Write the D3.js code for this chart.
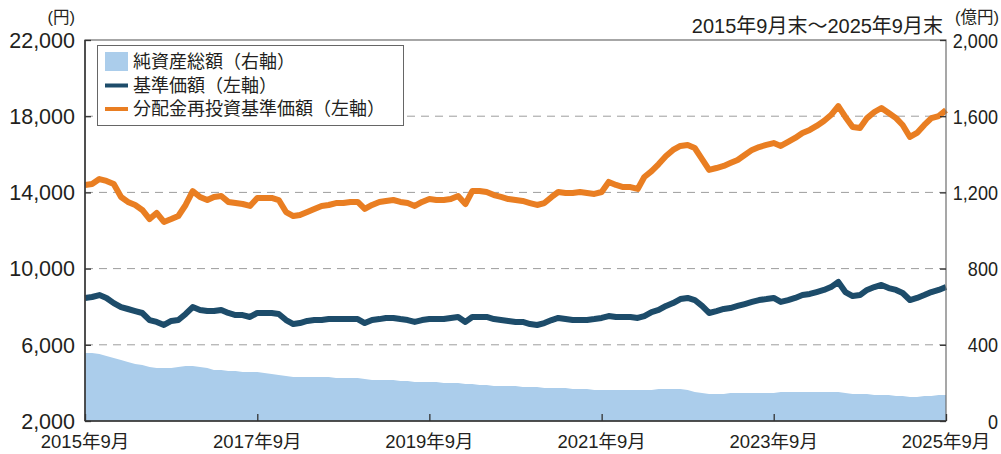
<!DOCTYPE html>
<html>
<head>
<meta charset="UTF-8">
<title>基準価額・純資産総額の推移</title>
<style>
  html, body { margin: 0; padding: 0; background: #fff; overflow: hidden; }
  svg { display: block; font-family: "Liberation Sans", "Noto Sans CJK JP", sans-serif; }
</style>
<script src="https://cdn.jsdelivr.net/npm/d3@7"></script>
</head>
<body>
<svg width="1001" height="454"></svg>
<script>
// month-end values, 2015/9 .. 2025/9 (121 months)
const reinvest = [
  14390, 14440, 14700, 14600, 14440, 13760, 13500, 13340, 13080, 12600,
  12920, 12450, 12600, 12760, 13340, 14070, 13760, 13600, 13760, 13810,
  13500, 13440, 13390, 13290, 13710, 13710, 13710, 13600, 12970, 12760,
  12810, 12970, 13130, 13290, 13340, 13440, 13440, 13500, 13500, 13130,
  13340, 13500, 13550, 13600, 13500, 13440, 13290, 13500, 13650, 13600,
  13600, 13650, 13810, 13390, 14070, 14070, 14020, 13860, 13760, 13650,
  13600, 13550, 13440, 13340, 13440, 13760, 14020, 13970, 13970, 14020,
  13970, 13920, 14020, 14550, 14390, 14280, 14280, 14180, 14810, 15120,
  15490, 15910, 16230, 16440, 16490, 16330, 15750, 15180, 15280, 15390,
  15540, 15700, 15960, 16230, 16380, 16490, 16590, 16440, 16650, 16860,
  17120, 17280, 17490, 17750, 18060, 18530, 17960, 17430, 17380, 17900,
  18220, 18430, 18170, 17900, 17540, 16910, 17120, 17540, 17900, 18010,
  18320
];
const nav = [
  8460, 8510, 8610, 8460, 8190, 7980, 7880, 7770, 7670, 7300,
  7200, 7040, 7250, 7300, 7620, 7980, 7830, 7770, 7770, 7830,
  7670, 7560, 7560, 7460, 7670, 7670, 7670, 7620, 7300, 7090,
  7140, 7250, 7300, 7300, 7350, 7350, 7350, 7350, 7350, 7140,
  7300, 7350, 7410, 7410, 7350, 7300, 7200, 7300, 7350, 7350,
  7350, 7410, 7460, 7200, 7460, 7460, 7460, 7350, 7300, 7250,
  7200, 7200, 7090, 7040, 7140, 7300, 7410, 7350, 7300, 7300,
  7300, 7350, 7410, 7510, 7460, 7460, 7460, 7410, 7510, 7720,
  7830, 8040, 8190, 8400, 8460, 8350, 8040, 7670, 7770, 7880,
  7930, 8040, 8140, 8250, 8350, 8400, 8460, 8250, 8350, 8460,
  8610, 8670, 8770, 8880, 9030, 9300, 8770, 8560, 8610, 8880,
  9030, 9140, 8980, 8880, 8720, 8350, 8460, 8610, 8770, 8880,
  9030
];
const assets = [
  357, 357, 352, 341, 331, 320, 310, 299, 294, 283,
  278, 278, 278, 283, 289, 289, 283, 278, 268, 268,
  262, 262, 257, 257, 257, 252, 247, 241, 236, 231,
  231, 231, 231, 231, 231, 226, 226, 226, 226, 220,
  215, 215, 215, 215, 210, 210, 205, 205, 205, 205,
  199, 199, 199, 194, 194, 189, 189, 184, 184, 184,
  184, 178, 178, 178, 173, 173, 173, 173, 168, 168,
  168, 163, 163, 163, 163, 163, 163, 163, 163, 163,
  168, 168, 168, 168, 163, 152, 147, 142, 142, 142,
  147, 147, 147, 147, 147, 147, 147, 152, 152, 152,
  152, 152, 152, 152, 152, 152, 147, 142, 142, 142,
  136, 136, 136, 131, 131, 126, 126, 131, 131, 136,
  136
];
const leftTicks = [2000, 6000, 10000, 14000, 18000, 22000];
const rightTicks = [0, 400, 800, 1200, 1600, 2000];
const xTickYears = [2015, 2017, 2019, 2021, 2023, 2025];
const legendItems = [
  { label: '純資産総額（右軸）', kind: 'area', color: '#abcdeb' },
  { label: '基準価額（左軸）', kind: 'line', color: '#1d4c6a' },
  { label: '分配金再投資基準価額（左軸）', kind: 'line', color: '#e97e22' }
];

const svg = d3.select('svg');
const plotL = 85, plotR = 946, plotT = 40, plotB = 421;
const textColor = '#231f20';

const months = reinvest.map((_, i) => new Date(2015, 8 + i, 1));

const x = d3.scaleTime()
  .domain([new Date(2015, 8, 1), new Date(2025, 8, 1)])
  .range([plotL, plotR]);
const yL = d3.scaleLinear().domain([2000, 22000]).range([plotB, plotT]);
const yR = d3.scaleLinear().domain([0, 2000]).range([plotB, plotT]);

svg.append('defs').append('clipPath').attr('id', 'plot')
  .append('rect').attr('x', plotL).attr('y', plotT)
  .attr('width', plotR - plotL).attr('height', plotB - plotT);

// net assets area
svg.append('path')
  .datum(assets)
  .attr('clip-path', 'url(#plot)')
  .attr('fill', '#abcdeb')
  .attr('d', d3.area()
    .x((d, i) => x(months[i]))
    .y0(plotB)
    .y1(d => yR(d)));

// dashed grid
svg.append('g').selectAll('line')
  .data(leftTicks.slice(1, -1))
  .join('line')
  .attr('x1', plotL).attr('x2', plotR)
  .attr('y1', d => yL(d)).attr('y2', d => yL(d))
  .attr('stroke', '#9d9d9d')
  .attr('stroke-width', 1)
  .attr('stroke-dasharray', '8,6');

const line = d3.line()
  .x((d, i) => x(months[i]))
  .y(d => yL(d));

svg.append('path')
  .datum(nav)
  .attr('fill', 'none')
  .attr('stroke', '#1d4c6a')
  .attr('stroke-width', 6)
  .attr('stroke-linejoin', 'round')
  .attr('d', line);

svg.append('path')
  .datum(reinvest)
  .attr('fill', 'none')
  .attr('stroke', '#e97e22')
  .attr('stroke-width', 6)
  .attr('stroke-linejoin', 'round')
  .attr('d', line);

// frame
svg.append('rect')
  .attr('x', plotL).attr('y', plotT)
  .attr('width', plotR - plotL).attr('height', plotB - plotT)
  .attr('fill', 'none')
  .attr('stroke', '#6d6d6d')
  .attr('stroke-width', 1.2);
svg.append('line')
  .attr('x1', plotL).attr('x2', plotL).attr('y1', plotT).attr('y2', plotB)
  .attr('stroke', '#333').attr('stroke-width', 1.5);
svg.append('line')
  .attr('x1', plotL).attr('x2', plotR).attr('y1', plotB).attr('y2', plotB)
  .attr('stroke', '#333').attr('stroke-width', 1.5);

// axes
const axisL = svg.append('g')
  .attr('transform', `translate(${plotL},0)`)
  .call(d3.axisRight(yL).tickValues(leftTicks).tickSize(6).tickFormat(''));
const axisR = svg.append('g')
  .attr('transform', `translate(${plotR},0)`)
  .call(d3.axisLeft(yR).tickValues(rightTicks).tickSize(6).tickFormat(''));
const axisB = svg.append('g')
  .attr('transform', `translate(0,${plotB})`)
  .call(d3.axisTop(x).tickValues(xTickYears.map(yr => new Date(yr, 8, 1))).tickSize(7).tickFormat(''));
[axisL, axisR, axisB].forEach(g => {
  g.select('.domain').remove();
  g.selectAll('line').attr('stroke', '#333').attr('stroke-width', 1.3);
});

const fmt = d3.format(',');
svg.append('g').selectAll('text')
  .data(leftTicks)
  .join('text')
  .attr('x', 75).attr('y', d => yL(d))
  .attr('dy', '0.36em')
  .attr('text-anchor', 'end')
  .attr('font-size', 21.5)
  .attr('fill', textColor)
  .text(d => fmt(d));

// right labels are set narrower, flush right at the page edge
svg.append('g').selectAll('text')
  .data(rightTicks)
  .join('text')
  .attr('transform', d => `translate(998,${yR(d)}) scale(0.86,1)`)
  .attr('dy', '0.36em')
  .attr('text-anchor', 'end')
  .attr('font-size', 21)
  .attr('fill', textColor)
  .text(d => fmt(d));

svg.append('g').selectAll('text')
  .data(xTickYears)
  .join('text')
  .attr('x', d => x(new Date(d, 8, 1)))
  .attr('y', 448)
  .attr('text-anchor', 'middle')
  .attr('font-size', 18.5)
  .attr('fill', textColor)
  .text(d => `${d}年9月`);

svg.append('text')
  .attr('x', 75).attr('y', 23)
  .attr('text-anchor', 'end')
  .attr('font-size', 16.5)
  .attr('fill', textColor)
  .text('(円)');

svg.append('text')
  .attr('x', 955).attr('y', 23)
  .attr('font-size', 16.5)
  .attr('fill', textColor)
  .text('(億円)');

svg.append('text')
  .attr('x', 943).attr('y', 33)
  .attr('text-anchor', 'end')
  .attr('font-size', 20)
  .attr('fill', textColor)
  .text('2015年9月末～2025年9月末');

// legend
const legend = svg.append('g');
legend.append('rect')
  .attr('x', 97.5).attr('y', 45.5)
  .attr('width', 306).attr('height', 80)
  .attr('fill', '#fff')
  .attr('stroke', '#666')
  .attr('stroke-width', 1);
legendItems.forEach((item, i) => {
  const cy = 62 + i * 23.5;
  if (item.kind === 'area') {
    legend.append('rect')
      .attr('x', 105).attr('y', cy - 10)
      .attr('width', 23).attr('height', 19)
      .attr('fill', item.color);
  } else {
    legend.append('line')
      .attr('x1', 105).attr('x2', 128)
      .attr('y1', cy).attr('y2', cy)
      .attr('stroke', item.color)
      .attr('stroke-width', 4);
  }
  legend.append('text')
    .attr('x', 133).attr('y', cy)
    .attr('dy', '0.36em')
    .attr('font-size', 18)
    .attr('fill', textColor)
    .text(item.label);
});
</script>
</body>
</html>
